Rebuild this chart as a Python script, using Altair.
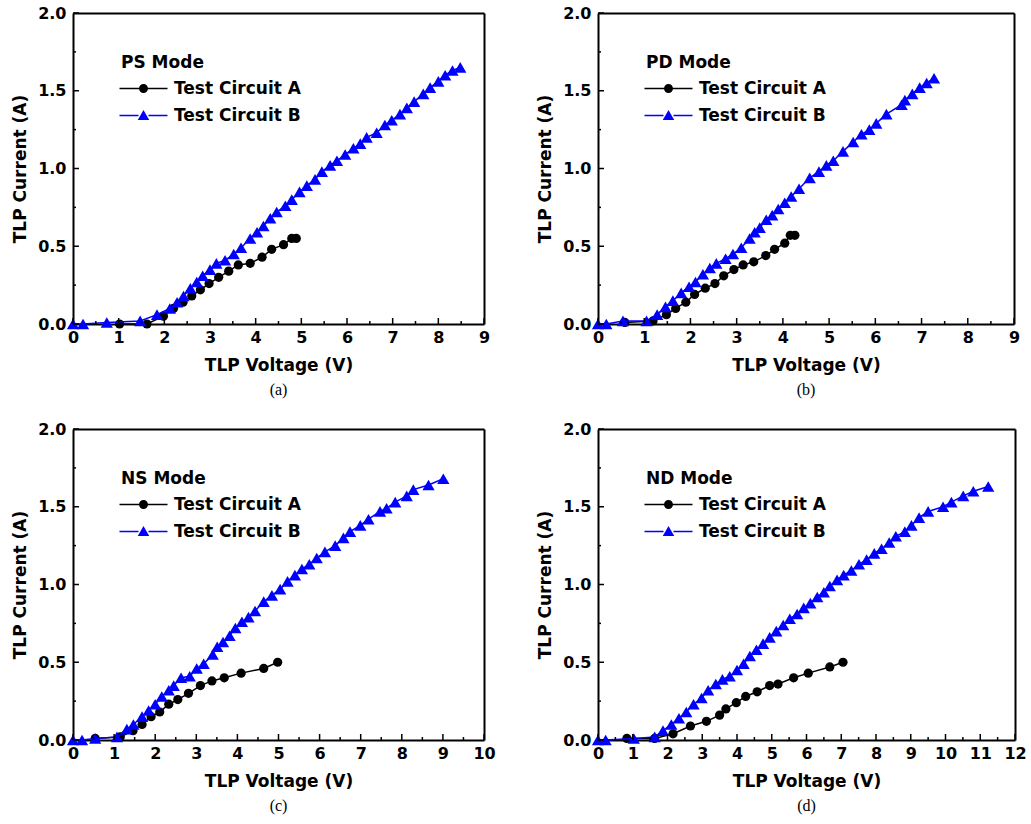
import altair as alt
import pandas as pd

SERIES = ["Test Circuit A", "Test Circuit B"]
COLORS = ["#000000", "#0000ff"]
MODES = ["PS Mode", "PD Mode", "NS Mode", "ND Mode"]
CAPTIONS = ["(a)", "(b)", "(c)", "(d)"]
X_MAX = [9, 9, 10, 12]
Y_TICKS = [0.0, 0.5, 1.0, 1.5, 2.0]
Y_MINOR = [0.25, 0.75, 1.25, 1.75]
X_TITLE = "TLP Voltage (V)"
Y_TITLE = "TLP Current (A)"

# ---- (a) PS mode ----
a_A_v = [1.02, 1.62, 1.98, 2.20, 2.41, 2.60, 2.79, 2.98, 3.19, 3.41, 3.62, 3.88, 4.14, 4.35, 4.61, 4.79, 4.89]
a_A_i = [0.00, 0.00, 0.05, 0.10, 0.14, 0.18, 0.22, 0.26, 0.30, 0.34, 0.38, 0.39, 0.43, 0.48, 0.51, 0.55, 0.55]
a_B_v = [0.00, 0.22, 0.74, 1.47, 1.84, 2.12, 2.28, 2.42, 2.57, 2.71, 2.84, 3.00, 3.14, 3.33, 3.52, 3.68, 3.88,
         4.03, 4.17, 4.32, 4.46, 4.65, 4.79, 4.96, 5.12, 5.30, 5.45, 5.63, 5.78, 5.96, 6.14, 6.29, 6.43, 6.65,
         6.83, 6.98, 7.16, 7.31, 7.47, 7.67, 7.82, 8.00, 8.15, 8.31, 8.48]
a_B_i = [0.00, 0.00, 0.01, 0.02, 0.06, 0.10, 0.14, 0.18, 0.23, 0.27, 0.31, 0.35, 0.39, 0.41, 0.45, 0.49, 0.55,
         0.59, 0.63, 0.68, 0.72, 0.76, 0.80, 0.85, 0.89, 0.93, 0.98, 1.02, 1.05, 1.09, 1.13, 1.16, 1.20, 1.23,
         1.28, 1.31, 1.35, 1.39, 1.43, 1.48, 1.52, 1.56, 1.60, 1.63, 1.65]

# ---- (b) PD mode ----
b_A_v = [0.58, 1.19, 1.48, 1.68, 1.90, 2.09, 2.32, 2.53, 2.72, 2.94, 3.14, 3.37, 3.63, 3.82, 4.04, 4.16, 4.26]
b_A_i = [0.01, 0.02, 0.06, 0.10, 0.14, 0.19, 0.23, 0.26, 0.31, 0.35, 0.38, 0.40, 0.44, 0.48, 0.52, 0.57, 0.57]
b_B_v = [0.00, 0.18, 0.54, 1.05, 1.28, 1.46, 1.62, 1.80, 1.97, 2.11, 2.27, 2.42, 2.56, 2.76, 2.92, 3.10, 3.28,
         3.39, 3.50, 3.64, 3.77, 3.90, 4.04, 4.18, 4.35, 4.58, 4.78, 4.94, 5.09, 5.30, 5.52, 5.70, 5.87, 6.02,
         6.24, 6.57, 6.64, 6.80, 6.96, 7.11, 7.27]
b_B_i = [0.00, 0.00, 0.02, 0.02, 0.06, 0.11, 0.15, 0.20, 0.24, 0.27, 0.32, 0.36, 0.39, 0.42, 0.45, 0.49, 0.55,
         0.59, 0.62, 0.67, 0.70, 0.74, 0.78, 0.82, 0.87, 0.94, 0.98, 1.02, 1.05, 1.11, 1.17, 1.22, 1.25, 1.29,
         1.35, 1.41, 1.44, 1.48, 1.52, 1.55, 1.58]

# ---- (c) NS mode ----
c_A_v = [0.54, 1.15, 1.46, 1.68, 1.90, 2.11, 2.33, 2.55, 2.81, 3.10, 3.38, 3.68, 4.09, 4.64, 4.98]
c_A_i = [0.01, 0.02, 0.06, 0.10, 0.15, 0.18, 0.23, 0.26, 0.30, 0.35, 0.38, 0.40, 0.43, 0.46, 0.50]
c_B_v = [0.00, 0.22, 0.54, 1.07, 1.31, 1.47, 1.68, 1.84, 2.00, 2.16, 2.33, 2.45, 2.63, 2.84, 3.01, 3.18, 3.40,
         3.51, 3.65, 3.81, 3.95, 4.11, 4.27, 4.43, 4.64, 4.84, 5.04, 5.22, 5.40, 5.57, 5.75, 5.93, 6.13, 6.38,
         6.58, 6.74, 6.99, 7.19, 7.47, 7.63, 7.84, 8.12, 8.28, 8.65, 9.01]
c_B_i = [0.00, 0.00, 0.01, 0.02, 0.07, 0.10, 0.15, 0.19, 0.23, 0.28, 0.32, 0.35, 0.40, 0.41, 0.46, 0.49, 0.55,
         0.60, 0.63, 0.67, 0.72, 0.76, 0.79, 0.83, 0.89, 0.93, 0.97, 1.02, 1.06, 1.10, 1.13, 1.17, 1.21, 1.25,
         1.30, 1.34, 1.38, 1.42, 1.47, 1.49, 1.53, 1.57, 1.61, 1.64, 1.68]

# ---- (d) ND mode ----
d_A_v = [0.83, 1.63, 2.16, 2.66, 3.12, 3.50, 3.68, 3.98, 4.25, 4.58, 4.94, 5.18, 5.63, 6.05, 6.67, 7.05]
d_A_i = [0.01, 0.01, 0.04, 0.09, 0.12, 0.16, 0.20, 0.24, 0.28, 0.31, 0.35, 0.36, 0.40, 0.43, 0.47, 0.50]
d_B_v = [0.00, 0.22, 1.03, 1.63, 1.87, 2.11, 2.33, 2.54, 2.75, 2.98, 3.17, 3.39, 3.58, 3.79, 4.00, 4.19, 4.37,
         4.56, 4.75, 4.94, 5.13, 5.33, 5.52, 5.73, 5.92, 6.11, 6.31, 6.50, 6.67, 6.88, 7.07, 7.29, 7.51, 7.73,
         7.95, 8.16, 8.38, 8.57, 8.83, 9.02, 9.24, 9.50, 9.93, 10.17, 10.51, 10.80, 11.23]
d_B_i = [0.00, 0.00, 0.01, 0.02, 0.06, 0.10, 0.14, 0.18, 0.23, 0.27, 0.32, 0.36, 0.39, 0.41, 0.45, 0.49, 0.54,
         0.58, 0.62, 0.66, 0.70, 0.74, 0.78, 0.81, 0.85, 0.88, 0.92, 0.95, 0.99, 1.03, 1.06, 1.09, 1.13, 1.16,
         1.20, 1.23, 1.27, 1.31, 1.34, 1.38, 1.43, 1.47, 1.50, 1.53, 1.57, 1.60, 1.63]

PANELS = [
    (a_A_v, a_A_i, a_B_v, a_B_i),
    (b_A_v, b_A_i, b_B_v, b_B_i),
    (c_A_v, c_A_i, c_B_v, c_B_i),
    (d_A_v, d_A_i, d_B_v, d_B_i),
]

FONT = "DejaVu Sans"
PLOT_W = [411, 416, 411, 417]
PLOT_H = 311

# legend symbols: line segments with marker, as custom paths
SYM_A = ("M-4.8,-0.15H-0.8V0.15H-4.8Z M0.8,-0.15H4.8V0.15H0.8Z "
         "M0.9,0A0.9,0.9,0,1,1,-0.9,0A0.9,0.9,0,1,1,0.9,0Z")
SYM_B = ("M-4.8,-0.15H-1.0V0.15H-4.8Z M1.0,-0.15H4.8V0.15H1.0Z "
         "M0,-1.1L1.15,0.9L-1.15,0.9Z")


def panel(k):
    av, ai, bv, bi = PANELS[k]
    xmax = X_MAX[k]
    w = PLOT_W[k]
    xs = alt.Scale(domain=[0, xmax], nice=False, zero=False)
    ys = alt.Scale(domain=[0, 2], nice=False, zero=False)
    common = dict(grid=False, domain=True, domainColor="black", domainWidth=2, ticks=False,
                  labelFont=FONT, labelFontSize=16, labelFontWeight="bold", labelColor="black",
                  labelFlush=False, labelOverlap=False, titleFont=FONT, titleFontSize=17,
                  titleFontWeight="bold", titleColor="black")
    xaxis = alt.Axis(title=X_TITLE, values=list(range(xmax + 1)), format="d",
                     labelPadding=5, titlePadding=12, **common)
    yaxis = alt.Axis(title=Y_TITLE, values=Y_TICKS, format=".1f",
                     labelPadding=7, titlePadding=8, **common)
    xtop = alt.Axis(orient="top", title=None, labels=False, ticks=False, grid=False,
                    domain=True, domainColor="black", domainWidth=2)
    yright = alt.Axis(orient="right", title=None, labels=False, ticks=False, grid=False,
                      domain=True, domainColor="black", domainWidth=2)

    dfA = pd.DataFrame({"V": av, "I": ai})
    dfB = pd.DataFrame({"V": bv, "I": bi})

    lineA = alt.Chart(dfA).mark_line(
        color=COLORS[0], strokeWidth=1.5,
        point=alt.OverlayMarkDef(shape="circle", filled=True, size=85, color=COLORS[0], opacity=1),
    ).encode(x=alt.X("V:Q", scale=xs, axis=xaxis), y=alt.Y("I:Q", scale=ys, axis=yaxis))
    lineB = alt.Chart(dfB).mark_line(
        color=COLORS[1], strokeWidth=1.5,
        point=alt.OverlayMarkDef(shape="triangle-up", filled=True, size=150, color=COLORS[1], opacity=1),
    ).encode(x=alt.X("V:Q", scale=xs, axis=None), y=alt.Y("I:Q", scale=ys, axis=None))

    # frame: top and right axis lines
    frame = alt.Chart(dfA).mark_point(opacity=0).encode(
        x=alt.X("V:Q", scale=xs, axis=xtop), y=alt.Y("I:Q", scale=ys, axis=yright))

    # inward tick marks
    xmaj = pd.DataFrame({"V": list(range(xmax + 1))})
    xmin = pd.DataFrame({"V": [i + 0.5 for i in range(xmax)]})
    ymaj = pd.DataFrame({"I": Y_TICKS})
    ymin = pd.DataFrame({"I": Y_MINOR})
    tx1 = alt.Chart(xmaj).mark_rule(color="black", strokeWidth=1.5).encode(
        x=alt.X("V:Q", scale=xs, axis=None), y=alt.value(PLOT_H), y2=alt.value(PLOT_H - 6))
    tx2 = alt.Chart(xmin).mark_rule(color="black", strokeWidth=1.5).encode(
        x=alt.X("V:Q", scale=xs, axis=None), y=alt.value(PLOT_H), y2=alt.value(PLOT_H - 3))
    ty1 = alt.Chart(ymaj).mark_rule(color="black", strokeWidth=1.5).encode(
        y=alt.Y("I:Q", scale=ys, axis=None), x=alt.value(0), x2=alt.value(6))
    ty2 = alt.Chart(ymin).mark_rule(color="black", strokeWidth=1.5).encode(
        y=alt.Y("I:Q", scale=ys, axis=None), x=alt.value(0), x2=alt.value(3))

    leg = alt.Legend(title=MODES[k], orient="none", legendX=48, legendY=42, padding=0,
                     direction="vertical",
                     titleFont=FONT, titleFontSize=17, titleFontWeight="bold", titleColor="black",
                     titlePadding=8, titleAnchor="start",
                     labelFont=FONT, labelFontSize=17, labelFontWeight="bold", labelColor="black",
                     symbolSize=100, symbolOffset=14, labelOffset=22, rowPadding=9,
                     symbolStrokeWidth=0)
    legdf = pd.DataFrame({"series": SERIES})
    legend_layer = alt.Chart(legdf).transform_filter("false").mark_point(
        filled=True, size=100, opacity=1
    ).encode(
        shape=alt.Shape("series:N", scale=alt.Scale(domain=SERIES, range=[SYM_A, SYM_B]), legend=leg),
        color=alt.Color("series:N", scale=alt.Scale(domain=SERIES, range=COLORS), legend=leg),
    )

    return alt.layer(lineA, lineB, frame, tx1, tx2, ty1, ty2, legend_layer).resolve_axis(
        x="independent", y="independent"
    ).properties(
        width=w, height=PLOT_H,
        title=alt.TitleParams(CAPTIONS[k], orient="bottom", anchor="middle", frame="group",
                              font="Liberation Serif", fontSize=16, fontWeight="normal",
                              color="black", offset=9),
    )


chart = alt.concat(
    *[panel(k) for k in range(4)],
    columns=2,
    spacing={"row": 105, "column": 114},
    bounds="flush",
).resolve_scale(
    color="independent", shape="independent", x="independent", y="independent"
).resolve_legend(
    color="independent", shape="independent"
).properties(
    padding={"left": 11, "top": 5, "right": 3, "bottom": 2},
).configure(
    background="white"
).configure_view(
    stroke=None
)

chart.save("out.html", embed_options={"renderer": "svg", "actions": False})
